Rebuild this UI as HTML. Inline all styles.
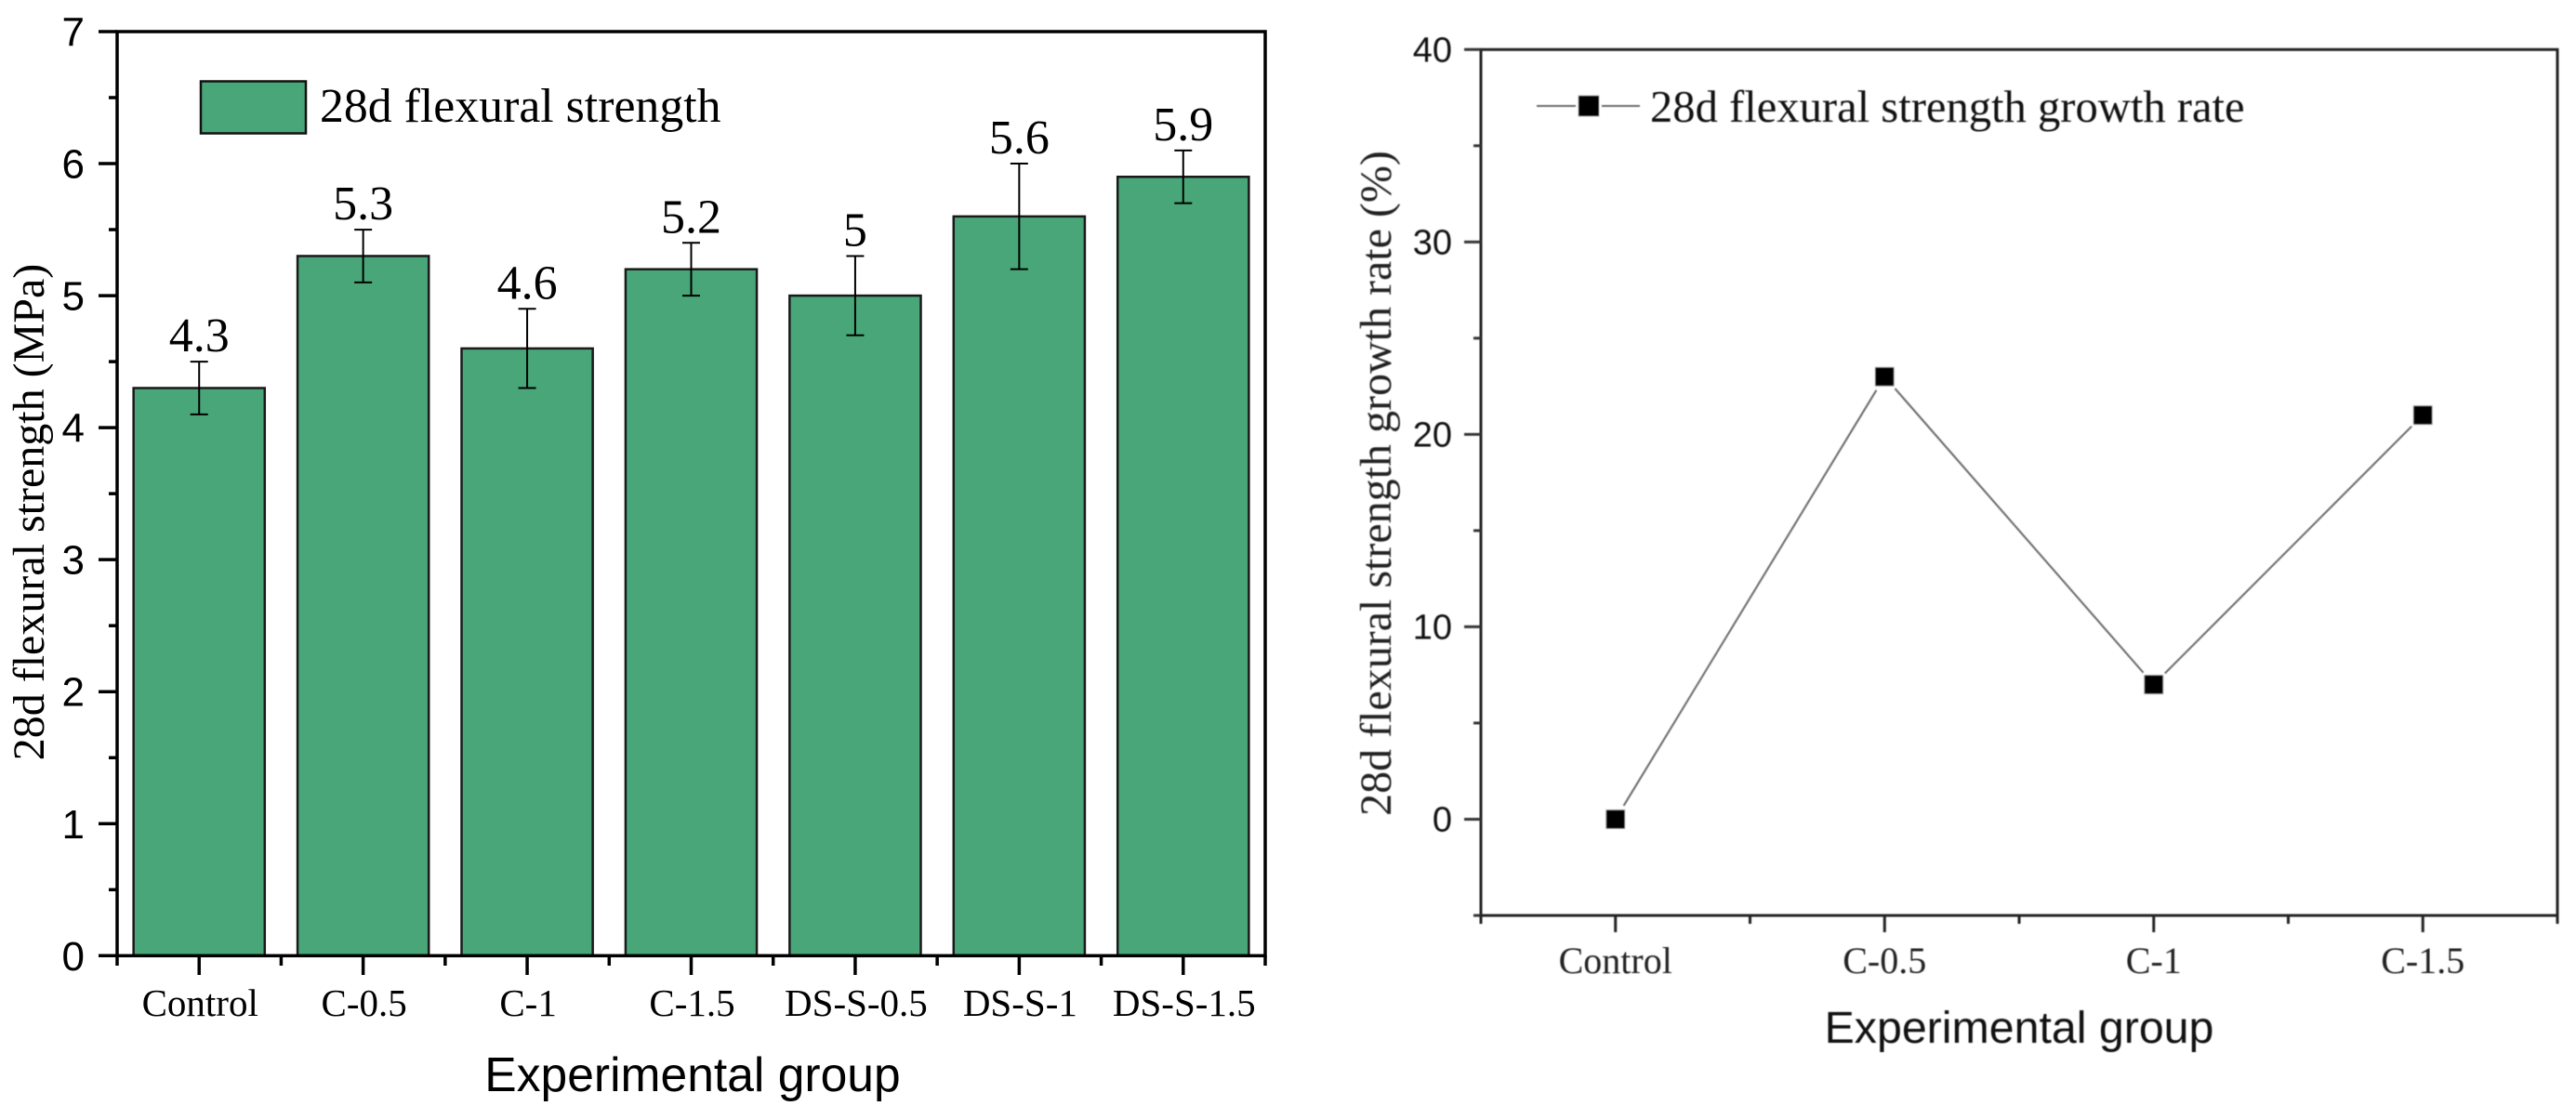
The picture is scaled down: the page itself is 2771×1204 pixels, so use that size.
<!DOCTYPE html>
<html>
<head>
<meta charset="utf-8">
<style>
html,body{margin:0;padding:0;background:#fff;width:2771px;height:1204px;overflow:hidden}
svg{display:block}
.serif{font-family:"Liberation Serif",serif}
.sans{font-family:"Liberation Sans",sans-serif}
</style>
</head>
<body>
<svg id="fig" xmlns="http://www.w3.org/2000/svg" width="2771" height="1204" viewBox="0 0 2771 1204">
  <rect width="2771" height="1204" fill="#fff"/>
  <g id="left-chart">
    <g id="left-bars"></g>
    <rect x="126" y="34" width="1235" height="994.3" fill="none" stroke="#000" stroke-width="3.5"/>
    <g id="left-axes"></g>
    <rect x="216" y="87.5" width="113" height="56" fill="#48A678" stroke="#111" stroke-width="2.5"/>
    <text class="serif" x="344" y="131" font-size="51.8">28d flexural strength</text>
    <text class="serif" transform="translate(47,551) rotate(-90)" text-anchor="middle" font-size="48">28d flexural strength (MPa)</text>
    <text class="sans" x="745" y="1174" text-anchor="middle" font-size="51.6">Experimental group</text>
  </g>
  <g id="right-chart" style="filter:blur(0.6px)">
    <rect x="1593" y="53.3" width="1158" height="931.7" fill="none" stroke="#222" stroke-width="3"/>
    <g id="right-axes"></g>
    <g id="right-series"></g>
    <line x1="1653" y1="114" x2="1695" y2="114" stroke="#666" stroke-width="2"/>
    <line x1="1723" y1="114" x2="1764" y2="114" stroke="#666" stroke-width="2"/>
    <rect x="1698" y="103" width="22" height="22" fill="#000" stroke="#aaa" stroke-width="1"/>
    <text class="serif" x="1775" y="131" font-size="48.6" fill="#111">28d flexural strength growth rate</text>
    <text class="serif" transform="translate(1496,520) rotate(-90)" text-anchor="middle" font-size="48" fill="#222">28d flexural strength growth rate (%)</text>
    <text class="sans" x="2172" y="1122" text-anchor="middle" font-size="48.3" fill="#111">Experimental group</text>
  </g>
</svg>
<script>
// Left chart data
const barCategories = ["Control", "C-0.5", "C-1", "C-1.5", "DS-S-0.5", "DS-S-1", "DS-S-1.5"];
const barValues = [4.3, 5.3, 4.6, 5.2, 5, 5.6, 5.9];
const barErrors = [0.2, 0.2, 0.3, 0.2, 0.3, 0.4, 0.2];
const barYTicks = [0, 1, 2, 3, 4, 5, 6, 7];
const barYMinorTicks = [0.5, 1.5, 2.5, 3.5, 4.5, 5.5, 6.5];

// Right chart data
const lineCategories = ["Control", "C-0.5", "C-1", "C-1.5"];
const lineValues = [0, 23, 7, 21];
const lineYTicks = [0, 10, 20, 30, 40];
const lineYMinorTicks = [-5, 5, 15, 25, 35];

const NS = "http://www.w3.org/2000/svg";
function mk(parent, tag, props, txt) {
  const el = document.createElementNS(NS, tag);
  for (const k in props) el.setAttribute(k, props[k]);
  if (txt !== undefined) el.textContent = txt;
  parent.appendChild(el);
  return el;
}

// Left axis functions
const lx0 = 126, lx1 = 1361, ly0 = 1028.3, ly1 = 34;
const lBand = (lx1 - lx0) / barCategories.length;
const lX = i => lx0 + lBand * (i + 0.5);
const lEdge = i => lx0 + lBand * i;
const lY = v => ly0 + (ly1 - ly0) * (v - 0) / (7 - 0);

const leftBars = document.getElementById("left-bars");
const leftAxes = document.getElementById("left-axes");

barValues.forEach((v, i) => {
  const w = lBand * 0.8;
  const bar = mk(leftBars, "rect", {x: lX(i) - w / 2, y: lY(v), width: w, height: ly0 - lY(v), fill: "#48A678", stroke: "#1a1a1a", "stroke-width": 2.5});
  
  
  const up = lY(v + barErrors[i]), lo = lY(v - barErrors[i]);
  const stem = mk(leftBars, "line", {x1: lX(i), x2: lX(i), y1: up, y2: lo, stroke: "#000", "stroke-width": 2});
  
  
  const capTop = mk(leftBars, "line", {x1: lX(i) - 9.5, x2: lX(i) + 9.5, y1: up, y2: up, stroke: "#000", "stroke-width": 2});
  
  
  const capBot = mk(leftBars, "line", {x1: lX(i) - 9.5, x2: lX(i) + 9.5, y1: lo, y2: lo, stroke: "#000", "stroke-width": 2});
  
  
  const lab = mk(leftBars, "text", {x: lX(i), y: up - 11, "text-anchor": "middle", "font-size": 52, class: "serif"}, String(v));
  
  
});

barYTicks.forEach(t => {
  const tick = mk(leftAxes, "line", {x1: 106, x2: lx0, y1: lY(t), y2: lY(t), stroke: "#000", "stroke-width": 3.5});
  
  
  const lab = mk(leftAxes, "text", {x: 91, y: lY(t) + 15.5, "text-anchor": "end", "font-size": 44, class: "sans"}, String(t));
  
  
});
barYMinorTicks.forEach(t => {
  const tick = mk(leftAxes, "line", {x1: 117, x2: lx0, y1: lY(t), y2: lY(t), stroke: "#000", "stroke-width": 3.5});
  
  
});
barCategories.forEach((c, i) => {
  const tick = mk(leftAxes, "line", {x1: lX(i), x2: lX(i), y1: ly0, y2: 1049, stroke: "#000", "stroke-width": 3.5});
  
  
  const lab = mk(leftAxes, "text", {x: lX(i) + 1, y: 1093, "text-anchor": "middle", "font-size": 41, class: "serif"}, c);
  
  
});
for (let i = 0; i <= barCategories.length; i++) {
  const tick = mk(leftAxes, "line", {x1: lEdge(i), x2: lEdge(i), y1: ly0, y2: 1039, stroke: "#000", "stroke-width": 3.5});
  
  
}

// Right axis functions
const rx0 = 1593, rx1 = 2751, ry0 = 985, ry1 = 53.3;
const rBand = (rx1 - rx0) / lineCategories.length;
const rX = i => rx0 + rBand * (i + 0.5);
const rEdge = i => rx0 + rBand * i;
const rY = v => ry0 + (ry1 - ry0) * (v - (-5)) / (40 - (-5));

const rightAxes = document.getElementById("right-axes");
const rightSeries = document.getElementById("right-series");

lineYTicks.forEach(t => {
  const tick = mk(rightAxes, "line", {x1: 1575, x2: rx0, y1: rY(t), y2: rY(t), stroke: "#333", "stroke-width": 3});
  
  
  const lab = mk(rightAxes, "text", {x: 1562, y: rY(t) + 13, "text-anchor": "end", "font-size": 38, fill: "#111", class: "sans"}, String(t));
  
  
});
lineYMinorTicks.forEach(t => {
  const tick = mk(rightAxes, "line", {x1: 1585, x2: rx0, y1: rY(t), y2: rY(t), stroke: "#333", "stroke-width": 3});
  
  
});
lineCategories.forEach((c, i) => {
  const tick = mk(rightAxes, "line", {x1: rX(i), x2: rX(i), y1: ry0, y2: 1003, stroke: "#222", "stroke-width": 3});
  
  
  const lab = mk(rightAxes, "text", {x: rX(i), y: 1047, "text-anchor": "middle", "font-size": 40, fill: "#222", class: "serif"}, c);
  
  
});
for (let i = 0; i <= lineCategories.length; i++) {
  const tick = mk(rightAxes, "line", {x1: rEdge(i), x2: rEdge(i), y1: ry0, y2: 994, stroke: "#222", "stroke-width": 3});
  
  
}

// Line segments stop short of each marker
const gap = 17;
for (let i = 0; i < lineValues.length - 1; i++) {
  const ax = rX(i), ay = rY(lineValues[i]), bx = rX(i + 1), by = rY(lineValues[i + 1]);
  const len = Math.hypot(bx - ax, by - ay);
  const ux = (bx - ax) / len, uy = (by - ay) / len;
  const seg = mk(rightSeries, "line", {x1: ax + ux * gap, y1: ay + uy * gap, x2: bx - ux * gap, y2: by - uy * gap, stroke: "#666", "stroke-width": 2});
  
  
}
lineValues.forEach((v, i) => {
  const pt = mk(rightSeries, "rect", {x: rX(i) - 10, y: rY(v) - 10, width: 20, height: 20, fill: "#000", stroke: "#aaa", "stroke-width": 1});
  
  
});
</script>
</body>
</html>
